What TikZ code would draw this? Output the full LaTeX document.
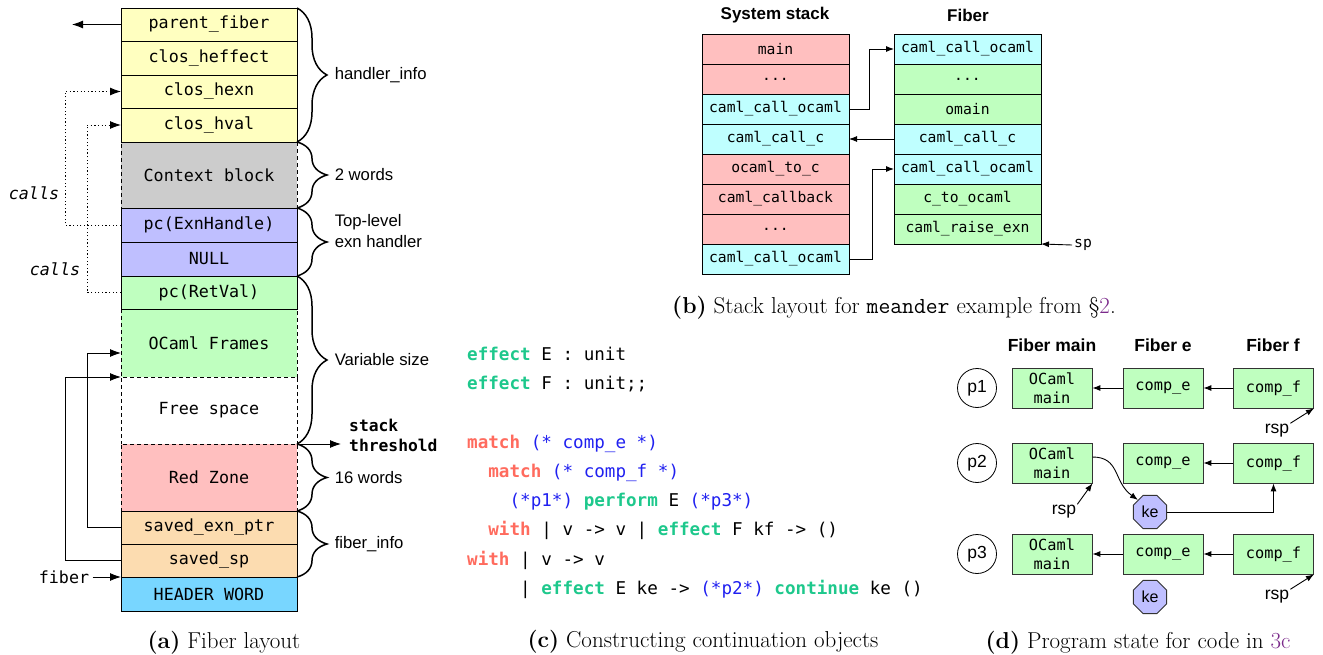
\documentclass[tikz,border=0pt]{standalone}
\usepackage{fontspec}
\setsansfont{Liberation Sans}
\newfontfamily\cellfont{DejaVu Sans Mono}
\usetikzlibrary{arrows.meta,shapes.geometric,decorations.pathreplacing}

\definecolor{cellyellow}{HTML}{FFFFC0}
\definecolor{cellgray}{HTML}{CCCCCC}
\definecolor{cellblue}{HTML}{BFBFFF}
\definecolor{cellgreen}{HTML}{BFFFBF}
\definecolor{cellred}{HTML}{FFBFBF}
\definecolor{cellpeach}{HTML}{FCDCB0}
\definecolor{cellheader}{HTML}{78D6FF}
\definecolor{cellcyan}{HTML}{BFFFFF}
\definecolor{kwgreen}{HTML}{1EC88C}
\definecolor{kwred}{HTML}{FF6B5E}
\definecolor{cmblue}{HTML}{2020F0}
\definecolor{linkpurple}{HTML}{7B2A8B}

\newcommand\stackdots{...}
\newcommand\kwe[1]{\textcolor{kwgreen}{\bfseries#1}}
\newcommand\kwm[1]{\textcolor{kwred}{\bfseries#1}}
\newcommand\cmt[1]{\textcolor{cmblue}{#1}}

\tikzset{
  cell/.style={draw, line width=0.9pt, anchor=north west, minimum width=176, inner sep=0pt, outer sep=0pt,
    font=\cellfont\fontsize{16.7}{20}\selectfont},
  bcell/.style={draw, line width=0.9pt, anchor=north west, minimum width=147, minimum height=30, inner sep=0pt, outer sep=0pt,
    font=\cellfont\fontsize{14.7}{18}\selectfont},
  dbox/.style={draw=black!80, fill=cellgreen, line width=0.8pt, minimum width=80, minimum height=40, inner sep=0pt,
    align=center, font=\cellfont\fontsize{15.3}{19}\selectfont},
  state/.style={circle, draw, line width=0.8pt, minimum size=39, inner sep=0pt, font=\sffamily\fontsize{17.5}{20}\selectfont},
  kenode/.style={regular polygon, regular polygon sides=8, draw=black!80, fill=cellblue, line width=0.8pt,
    minimum size=36, inner sep=0pt, font=\sffamily\fontsize{16}{18}\selectfont},
  brc/.style={decorate, decoration={brace, amplitude=30pt}, line width=1.5pt},
  lbl/.style={font=\sffamily\fontsize{16.7}{21}\selectfont, inner sep=2pt},
  codeline/.style={anchor=base west, inner sep=0pt, font=\cellfont\fontsize{17.6}{20}\selectfont},
  caption/.style={anchor=base, font=\fontsize{23}{26}\selectfont}
}

\begin{document}
\begin{tikzpicture}[x=1pt, y=-1pt,
    arr/.style={-{Latex[length=11pt,width=8pt]}, line width=0.9pt},
    sarr/.style={-{Latex[length=8pt,width=6pt]}, line width=0.9pt},
    callarr/.style={arr, dash pattern=on 1.2pt off 2.4pt}]
  \useasboundingbox (0,0) rectangle (1323,655);

  \foreach \n/\y/\h/\c/\t in {ctx/142/66/cellgray/Context block, ocf/309/68/cellgreen/OCaml Frames,
      free/377/67/white/Free space, red/444/67/cellred/Red Zone}
    \node[cell, dash pattern=on 4pt off 3pt, fill=\c, minimum height=\h] (\n) at (121,\y) {\t};
  \foreach \n/\y/\h/\c/\t in {pf/8/33/cellyellow/parent\_fiber, heff/41/34/cellyellow/clos\_heffect,
      hexn/75/33/cellyellow/clos\_hexn, hval/108/34/cellyellow/clos\_hval, pe/208/34/cellblue/pc(ExnHandle),
      null/242/34/cellblue/NULL, prv/276/33/cellgreen/pc(RetVal), sep/511/33/cellpeach/saved\_exn\_ptr,
      ssp/544/33/cellpeach/saved\_sp, hw/577/34/cellheader/HEADER WORD}
    \node[cell, fill=\c, minimum height=\h] (\n) at (121,\y) {\t};

  \foreach \a/\b/\d/\t in {8/142/0/handler\_info, 142/208/0/2 words, 208/276/11/{Top-level\\exn handler},
      276/444/0/Variable size, 444/511/0/16 words, 511/577/0/fiber\_info}
    \draw[brc] (297,\a) -- (297,\b) node[lbl, midway, anchor=west, align=left, xshift=35pt, yshift=\d pt] {\t};

  \coordinate (thr) at (341,444);
  \draw[arr] (red.north east) -- (thr);
  \node[anchor=west, align=left, inner sep=0pt, font=\cellfont\bfseries\fontsize{16.3}{20}\selectfont] (thrlbl) at (349,435) {stack\\threshold};

  \coordinate (pfend) at (72,24.5);
  \draw[arr] (pf.west) -- (pfend);
  \draw[callarr] (pe.west) -- ++(-56,0) |- (hexn.west);
  \draw[callarr] (prv.west) -- ++(-34,0) |- (hval.west);
  \node[font=\cellfont\itshape\fontsize{16.7}{20}\selectfont] (calls1) at (34,193) {calls};
  \node[font=\cellfont\itshape\fontsize{16.7}{20}\selectfont] (calls2) at (55,269) {calls};
  \draw[arr] (sep.west) -- ++(-34,0) |- ([yshift=-10pt]ocf.west);
  \draw[arr] (ssp.west) -- ++(-56,0) |- (free.north west);
  \node[font=\cellfont\fontsize{16.7}{20}\selectfont] (fib) at (64,577) {fiber};
  \draw[arr] (fib) -- (hw.north west);

  \node[caption] (capa) at (224,648) {\textbf{(a)} Fiber layout};

  \node[font=\sffamily\bfseries\fontsize{17}{20}\selectfont] (hsys) at (775,15) {System stack};
  \node[font=\sffamily\bfseries\fontsize{17}{20}\selectfont] (hfib) at (968,15) {Fiber};
  \foreach \t/\c [count=\i] in {main/cellred, \stackdots/cellred, caml\_call\_ocaml/cellcyan, caml\_call\_c/cellcyan,
      ocaml\_to\_c/cellred, caml\_callback/cellred, \stackdots/cellred, caml\_call\_ocaml/cellcyan}
    \node[bcell, fill=\c] (sys\i) at (702,{4+30*\i}) {\t};
  \foreach \t/\c [count=\i] in {caml\_call\_ocaml/cellcyan, \stackdots/cellgreen, omain/cellgreen, caml\_call\_c/cellcyan,
      caml\_call\_ocaml/cellcyan, c\_to\_ocaml/cellgreen, caml\_raise\_exn/cellgreen}
    \node[bcell, fill=\c] (fib\i) at (894,{4+30*\i}) {\t};
  \draw[sarr] (sys3.east) -- ++(20,0) |- (fib1.west);
  \draw[sarr] (fib4.west) -- (sys4.east);
  \draw[sarr] (sys8.east) -- ++(23,0) |- (fib5.west);
  \node[anchor=west, inner sep=2pt, font=\cellfont\fontsize{14.7}{18}\selectfont] (sp) at (1072,245) {sp};
  \draw[sarr] (sp.west) -- (fib7.south east);

  \node[caption] (capb) at (894,313) {\textbf{(b)} Stack layout for \texttt{meander} example from \S\textcolor{linkpurple}{2}.};

  \foreach \y/\t [count=\i] in {
      360/{\kwe{effect} E : unit},
      389/{\kwe{effect} F : unit;;},
      448/{\kwm{match} \cmt{(* comp\_e *)}},
      477/{\ \ \kwm{match} \cmt{(* comp\_f *)}},
      506/{\ \ \ \ \cmt{(*p1*)} \kwe{perform} E \cmt{(*p3*)}},
      535/{\ \ \kwm{with} | v -> v | \kwe{effect} F kf -> ()},
      565/{\kwm{with} | v -> v},
      594/{\ \ \ \ \ | \kwe{effect} E ke -> \cmt{(*p2*)} \kwe{continue} ke ()}}
    \node[codeline] (code\i) at (467,\y) {\t};

  \node[caption] (capc) at (703,647) {\textbf{(c)} Constructing continuation objects};

  \node[font=\sffamily\bfseries\fontsize{17.5}{20}\selectfont] (hmain) at (1052,345) {Fiber main};
  \node[font=\sffamily\bfseries\fontsize{17.5}{20}\selectfont] (he) at (1163,345) {Fiber e};
  \node[font=\sffamily\bfseries\fontsize{17.5}{20}\selectfont] (hf) at (1273,345) {Fiber f};
  \foreach \y [count=\i] in {388,463,554} {
    \node[state] (st\i) at (977,\y) {p\i};
    \node[dbox] (main\i) at (1052,\y) {OCaml\\main};
    \node[dbox] (fe\i) at (1163,\y) {comp\_e};
    \node[dbox] (ff\i) at (1273.5,\y) {comp\_f};
  }
  \draw[sarr] (fe1.west) -- (main1.east);
  \draw[sarr] (ff1.west) -- (fe1.east);
  \draw[sarr] (ff2.west) -- (fe2.east);
  \draw[sarr] (fe3.west) -- (main3.east);
  \draw[sarr] (ff3.west) -- (fe3.east);
  \node[kenode] (ke2) at (1150,512) {ke};
  \node[kenode] (ke3) at (1150,597) {ke};
  \draw[sarr] ([yshift=6pt]main2.east) .. controls +(28,0) and +(-25,-18) .. (ke2.north west);
  \draw[sarr] (ke2.east) -| (ff2.south);
  \node[font=\sffamily\fontsize{17.5}{20}\selectfont, inner sep=1pt] (rsp1) at (1277,431) {rsp};
  \node[font=\sffamily\fontsize{17.5}{20}\selectfont, inner sep=1pt] (rsp2) at (1064,512) {rsp};
  \node[font=\sffamily\fontsize{17.5}{20}\selectfont, inner sep=1pt] (rsp3) at (1277,597) {rsp};
  \draw[sarr] (rsp1.north east) -- (ff1.south east);
  \draw[sarr] (rsp2.north east) -- (main2.south east);
  \draw[sarr] (rsp3.north east) -- (ff3.south east);

  \node[caption] (capd) at (1138,648) {\textbf{(d)} Program state for code in \textcolor{linkpurple}{3c}};
\end{tikzpicture}
\end{document}
